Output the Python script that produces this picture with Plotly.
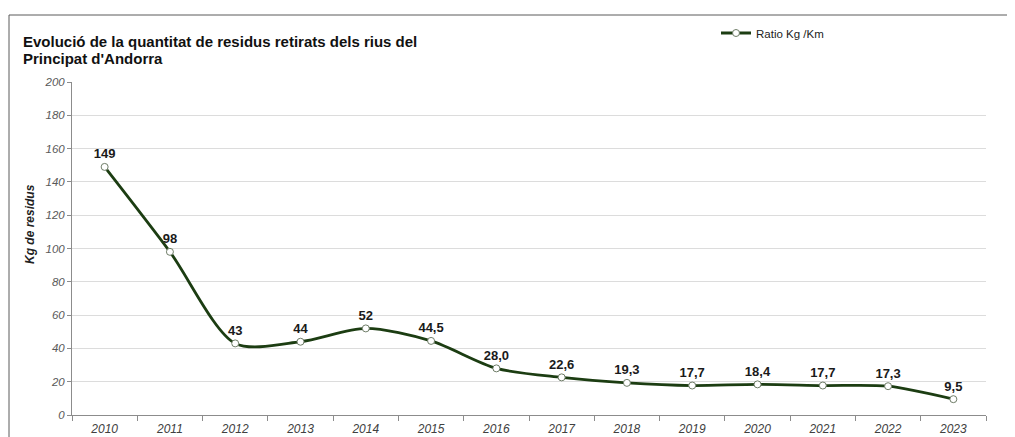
import plotly.graph_objects as go

years = ["2010", "2011", "2012", "2013", "2014", "2015", "2016", "2017",
         "2018", "2019", "2020", "2021", "2022", "2023"]
ratio = [149, 98, 43, 44, 52, 44.5, 28.0, 22.6, 19.3, 17.7, 18.4, 17.7, 17.3, 9.5]
labels = ["149", "98", "43", "44", "52", "44,5", "28,0", "22,6", "19,3",
          "17,7", "18,4", "17,7", "17,3", "9,5"]
y_ticks = [0, 20, 40, 60, 80, 100, 120, 140, 160, 180, 200]

FONT = "Liberation Sans, Arial, sans-serif"
OFF = 8  # page body margin
W, H = 1015 - OFF, 437 - OFF
PL, PR, PT, PB = 72, 986, 82, 415  # plot area in window pixels


def px(x):
    return (x - OFF) / W


def py(y):
    return 1 - (y - OFF) / H


fig = go.Figure()
fig.add_trace(go.Scatter(
    x=years, y=ratio, name="Ratio Kg /Km",
    mode="lines+markers+text",
    line=dict(color="#1c3d12", width=2.8, shape="spline", smoothing=0.8),
    marker=dict(symbol="circle", size=7, color="white",
                line=dict(color="#6f7d68", width=1)),
    text=labels, textposition="top center",
    textfont=dict(family=FONT, size=13, color="#1a1a1a", weight="bold"),
    cliponaxis=False,
))

fig.update_layout(
    width=W, height=H,
    margin=dict(l=0, r=0, t=0, b=0),
    paper_bgcolor="white", plot_bgcolor="white",
    font=dict(family=FONT, color="#404040"),
    showlegend=True,
    legend=dict(orientation="h", x=px(716), y=py(33), xanchor="left", yanchor="middle",
                font=dict(family=FONT, size=11.5, color="#222222"),
                bgcolor="rgba(0,0,0,0)", itemwidth=30),
    xaxis=dict(
        domain=[px(PL), px(PR)], automargin=False,
        type="category", showgrid=False, showline=True, linecolor="#8c8c8c",
        linewidth=1, ticks="outside", ticklen=5, tickcolor="#8c8c8c",
        tickson="boundaries", ticklabelstandoff=3,
        tickfont=dict(family=FONT, size=12, color="#404040", style="italic"),
        range=[-0.5, 13.5],
    ),
    yaxis=dict(
        domain=[py(PB), py(PT)], automargin=False,
        range=[0, 200], tickvals=y_ticks, showgrid=True, gridcolor="#dcdcdc",
        gridwidth=1, showline=True, linecolor="#8c8c8c", linewidth=1,
        ticks="outside", ticklen=4, tickcolor="#8c8c8c", zeroline=False,
        tickfont=dict(family=FONT, size=11.5, color="#595959", style="italic"),
    ),
    annotations=[
        dict(text="Evolució de la quantitat de residus retirats dels rius del",
             xref="paper", yref="paper", x=px(21), y=py(42), xanchor="left",
             yanchor="middle", showarrow=False,
             font=dict(family=FONT, size=15, color="#111111", weight="bold")),
        dict(text="Principat d'Andorra",
             xref="paper", yref="paper", x=px(21), y=py(58), xanchor="left",
             yanchor="middle", showarrow=False,
             font=dict(family=FONT, size=15, color="#111111", weight="bold")),
        dict(text="Kg de residus", xref="paper", yref="paper",
             x=px(30), y=py(224), xanchor="center", yanchor="middle",
             textangle=-90, showarrow=False,
             font=dict(family=FONT, size=12, color="#222222",
                       weight="bold", style="italic")),
    ],
    shapes=[
        dict(type="line", xref="paper", yref="paper",
             x0=px(9), x1=1, y0=py(15), y1=py(15),
             line=dict(color="#5a5a5a", width=1)),
        dict(type="line", xref="paper", yref="paper",
             x0=px(9), x1=px(9), y0=py(15), y1=0,
             line=dict(color="#5a5a5a", width=1)),
    ],
)

fig.write_html("out.html")
